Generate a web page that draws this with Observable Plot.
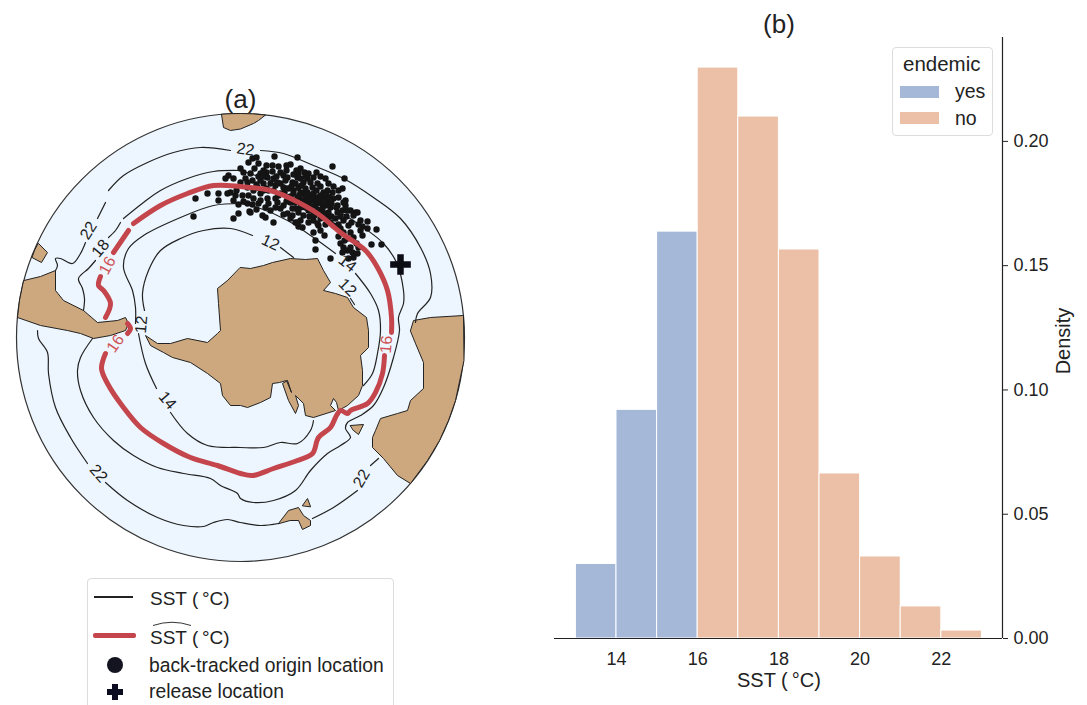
<!DOCTYPE html>
<html><head><meta charset="utf-8">
<script src="https://cdn.jsdelivr.net/npm/d3@7"></script>
<script src="https://cdn.jsdelivr.net/npm/@observablehq/plot@0.6"></script>
<style>
html,body{margin:0;padding:0;background:#fff;overflow:hidden}
#page{position:relative;width:1087px;height:705px;font-family:"Liberation Sans",Arial,sans-serif;color:#222;overflow:hidden}
#page>div.p{position:absolute;top:0}
.box{position:absolute;border:1px solid #dcdcdc;border-radius:4px;background:#fff;box-sizing:border-box}
.t{position:absolute;white-space:nowrap;line-height:1;transform:translateY(-50%)}
.g{position:absolute}
</style></head><body><div id="page">
<div class="p" id="mapP" style="left:0"></div>
<div class="p" id="histP" style="left:540px"></div>
</div>
<script>
// ---------- panel (b) values
const binStart=[13,14,15,16,17,18,19,20,21,22];
const density=[0.030,0.092,0.1637,0.2297,0.21,0.1565,0.0664,0.033,0.0129,0.0032];
const endemic=["yes","yes","yes","no","no","no","no","no","no","no"];
const xTicks=[14,16,18,20,22];
const yTicks=[0,0.05,0.10,0.15,0.20];

// ---------- panel (a) values, digitised map coordinates
const landTop=[[221,114],[223,127],[230,130],[240,128.5],[253,123],[258,120],[265,114.5],[252,113.3],[240,113],[230,113.2]];
const landIsle=[[38,243],[47,252],[41,262],[31.5,257],[34,250]];
const landSouthAm=[[23.4,280],[40,276],[55,270],[55,290],[63,300],[83,310],[97,322],[117,320],[125,317],[128,323],[125,330],[110,335],[93,338],[80,333],[67,330],[40,325],[17,317],[19,300]];
const landAntarctica=[[240,267],[250,268],[263,265],[272,262],[290,258],[305,259],[317,258],[323,270],[330,282],[323,290],[335,293],[347,297],[353,307],[366,317],[368,330],[368,347],[360,355],[362,370],[362,385],[358,395],[347,405],[338,410],[336,402],[333,398],[330,405],[335,410],[313,417],[305,415],[303,403],[295,395],[298,405],[295,413],[288,400],[282,383],[287,380],[291,392],[286,380],[279,382],[272,383],[270,397],[260,402],[247,407],[240,405],[230,405],[222,395],[220,383],[207,373],[190,362],[172,357],[163,352],[150,345],[145,335],[157,343],[170,343],[187,338],[207,342],[217,333],[220,330],[218,303],[217,288],[227,280]];
const landAustralia=[[410,330],[413,320],[430,317],[463,315],[463.5,360],[455,400],[448,420],[439,440],[427,460],[410,483],[397,475],[383,458],[372,447],[372,437],[375,430],[380,418],[397,413],[407,410],[410,400],[423,388],[423,362],[415,343]];
const landTas=[[350,425],[363,424],[358,434],[353,430]];
const landIslandA=[[278,523],[288,510],[298,507],[303,515],[310,520],[310,525],[302,529],[298,520],[290,520]];
const landIslandB=[[302,505],[307,498],[310,506]];
const lands=[landTop,landIsle,landSouthAm,landAntarctica,landAustralia,landTas,landIslandA,landIslandB];

const contours=[
 // 22
 [[260,150],[283,153],[313,165],[343,178],[373,197],[400,218],[420,247],[430,273],[430,297],[417,313],[415,322]],
 [[230,150],[200,147],[173,152],[147,162],[123,175],[108,190]],
 [[105,202],[97,218]],
 [[85,242],[80,253],[72,263],[60,258],[55,258],[57,265],[55,270]],
 [[37,330],[38,338],[47,352],[48,373],[55,407],[70,437],[87,463]],
 [[105,482],[127,500],[157,517],[183,525],[203,526],[213,522],[227,519],[240,522],[260,525],[278,523]],
 [[312,518],[333,507],[357,490]],
 [[370,465],[378,458]],
 // 18
 [[240,170],[213,171],[187,178],[160,190],[143,202],[123,218]],
 [[120,222],[115,230],[108,237]],
 [[95,260],[88,268],[78,278],[82,288],[84,298],[83,310]],
 [[240,170],[270,180],[310,195],[340,212],[363,227],[383,243],[396,262],[403,290],[403,303],[398,317],[399,330],[393,357],[383,387],[373,405],[360,415],[347,422],[345,428],[350,437],[340,445],[327,453],[310,470],[295,490],[273,500],[253,502],[240,498],[237,493],[220,485],[210,478],[183,473],[157,467],[133,455],[113,440],[93,417],[80,390],[77,370],[80,357],[92,338]],
 // 14
 [[240,203],[260,208],[287,220],[313,237],[335,253]],
 [[240,203],[213,205],[180,217],[143,235],[128,248],[123,267],[132,290],[135,307],[135,323]],
 [[138,333],[145,363],[156,388]],
 [[170,412],[187,433],[207,445],[240,447],[263,447],[280,442],[297,443],[310,430],[313,420]],
 [[355,273],[370,293],[378,310],[380,330],[377,353],[372,373],[363,385]],
 // 12
 [[252,235],[230,228],[203,230],[180,238],[160,250],[148,270],[142,293],[144,310]],
 [[280,247],[293,257]],
 [[350,298],[354,304]]
];
const redContour=[
 [[133,223],[160,205],[187,193],[213,185],[240,186],[270,190],[290,198],[317,213],[340,232],[365,250],[377,267],[387,290],[391,317],[391,332]],
 [[384,355],[382,373],[375,392],[367,403],[350,410],[347,413],[340,410],[336,415],[330,427],[318,437],[312,453],[297,460],[273,468],[252,475],[240,473],[217,465],[190,457],[163,443],[140,427],[123,407],[107,383],[101,368],[105,353]],
 [[127,333],[130,328],[127,323]],
 [[105,317],[110,303],[103,290],[98,285],[100,276]],
 [[113,252],[128,230]]
];
const contourLabels=[
 {x:245,y:149,text:"22",rotate:8,fill:"#222"},
 {x:88,y:230,text:"22",rotate:-58,fill:"#222"},
 {x:100,y:248,text:"18",rotate:-50,fill:"#222"},
 {x:107,y:265,text:"16",rotate:-62,fill:"#cf5257"},
 {x:141,y:324,text:"12",rotate:-85,fill:"#222"},
 {x:115,y:343,text:"16",rotate:-55,fill:"#cf5257"},
 {x:167,y:400,text:"14",rotate:50,fill:"#222"},
 {x:98,y:473,text:"22",rotate:48,fill:"#222"},
 {x:361,y:478,text:"22",rotate:-60,fill:"#222"},
 {x:386,y:344,text:"16",rotate:-85,fill:"#cf5257"},
 {x:270,y:242,text:"12",rotate:25,fill:"#222"},
 {x:347,y:263,text:"14",rotate:38,fill:"#222"},
 {x:347,y:287,text:"12",rotate:45,fill:"#222"}
];
const originsOuter=[[195,198],[193,216],[207,193],[218,193],[218,200],[233,218],[238,213],[249,211],[262,215],[265,217],[273,222],[295,222],[298,226],[315,249],[330,258],[315,240],[324,235],[313,232],[318,225],[274,156],[297,157],[332,166],[344,178],[342,188],[345,200],[345,205],[376,229],[381,244],[371,244],[367,221],[360,220],[355,212],[228,175],[225,178],[233,178]];
const originsUpper=[[248,162],[252,158],[256,157],[240,168],[243,172],[266,165],[263,170],[278,166],[280,172],[283,175],[290,164],[300,168],[298,173],[297,177],[308,173],[313,177],[320,176],[328,183],[327,190],[323,192],[260,173],[267,177],[273,178],[270,183],[263,183],[260,180],[250,173],[252,180],[240,182]];
const originsDense=[[280,183],[283,187],[288,188],[293,190],[287,177],[292,182],[295,183],[303,182],[307,178],[312,187],[317,183],[298,187],[305,188],[300,192],[303,193],[307,192],[310,195],[313,193],[317,197],[320,195],[323,198],[327,200],[305,197],[312,200],[318,202],[325,205],[330,207],[322,208],[333,198],[343,202],[337,205],[347,210],[297,197],[293,193],[302,200],[308,203],[315,205],[299,195],[309,199],[314,198],[321,203],[328,204],[304,201]];
const originsLower=[[230,192],[227,193],[235,195],[233,200],[242,195],[248,195],[253,198],[260,193],[247,203],[250,212],[258,203],[267,198],[265,207],[270,210],[277,202],[278,195],[283,205],[287,213],[295,208],[303,215],[297,222],[302,227],[313,220],[317,223],[320,230],[327,217],[335,218],[343,220],[353,215],[357,212],[348,225],[343,232],[353,237],[362,235],[367,228],[360,230],[343,247],[347,250],[357,253],[353,257],[340,243],[350,247],[273,190],[268,190],[263,190],[253,190],[257,187],[247,187],[280,193],[287,197],[290,202],[295,202],[300,207],[308,210],[313,212],[320,213],[328,212],[337,212],[280,208],[292,215]];
const originsFill=[[254,168],[258,176],[272,171],[286,170],[293,174],[304,172],[316,172],[276,176],[245,178],[256,184],[247,182],[266,188],[275,185],[285,180],[300,178],[310,182],[320,186],[326,195],[332,192],[338,197],[290,196],[284,192],[275,198],[268,203],[260,200],[252,204],[243,201],[236,190],[238,204],[256,209],[275,207],[286,201],[292,208],[298,212],[305,207],[311,206],[317,209],[324,213],[331,216],[340,216],[346,216],[351,222],[358,224],[338,224],[330,222],[325,224],[309,216],[300,220],[290,218],[283,214],[347,238],[356,243],[350,232],[338,236],[362,226],[342,210],[336,207],[331,203],[305,176],[296,170],[286,165],[272,165],[258,163],[350,210],[325,178],[333,186],[338,190],[266,172],[277,182],[264,176],[291,186],[316,190],[321,200],[329,197],[301,185],[315,201],[340,228],[333,225],[344,240],[352,252],[348,258],[342,252],[358,247],[314,215],[308,222],[320,218]];
const origins=[...originsOuter,...originsUpper,...originsDense,...originsLower,...originsFill];
const release=[[400,264]];

const rows=segs=>segs.flatMap((p,i)=>p.map(([x,y])=>({x,y,z:i})));

// ---------- panel (a)
const mapFont="Liberation Sans";
const map=Plot.plot({
 width:480,height:705,marginLeft:16,marginRight:16,marginTop:113,marginBottom:144,
 style:{fontFamily:mapFont,background:"transparent"},
 x:{axis:null,domain:[16,464]},
 y:{axis:null,domain:[113,561],reverse:false,range:[113,561]},
 marks:[
  Plot.dot([[240,337]],{x:d=>d[0],y:d=>d[1],r:224,fill:"#edf6fe",stroke:"#333",strokeWidth:1.2}),
  Plot.line(rows(lands),{x:"x",y:"y",z:"z",fill:"#cda77d",stroke:"#222",strokeWidth:1,curve:"linear-closed"}),
  Plot.line(rows(contours),{x:"x",y:"y",z:"z",stroke:"#222",strokeWidth:1.2,curve:"catmull-rom"}),
  Plot.dot(origins,{x:d=>d[0],y:d=>d[1],r:3.2,fill:"#141414"}),
  Plot.line(rows(redContour),{x:"x",y:"y",z:"z",stroke:"#c4464c",strokeWidth:5,curve:"catmull-rom",strokeLinejoin:"round"}),
  Plot.dot(release,{x:d=>d[0],y:d=>d[1],symbol:"plus",r:6.7,stroke:"#0c0c14",strokeWidth:6.5}),
  Plot.text(contourLabels,{x:"x",y:"y",text:"text",rotate:"rotate",fill:"fill",fontSize:16}),
  Plot.text(["(a)"],{x:[240],y:[99],text:d=>d,fontSize:26,fill:"#222"})
 ]
});
document.getElementById("mapP").append(map);

// ---------- panel (b)
const bars=binStart.map((s,i)=>({x1:s,x2:s+1,y:density[i],c:endemic[i]}));
const hist=Plot.plot({
 width:547,height:705,marginLeft:14,marginRight:85,marginTop:37,marginBottom:67,
 style:{fontFamily:mapFont,background:"transparent"},
 x:{domain:[12.473,23.507]},
 y:{domain:[0,0.2418]},
 color:{domain:["yes","no"],range:["#a5b8d8","#ebc0a6"]},
 marks:[
  Plot.rectY(bars,{x1:"x1",x2:"x2",y:"y",fill:"c",stroke:"#fff",strokeWidth:1}),
  Plot.ruleY([0],{stroke:"#222",strokeWidth:1.2}),
  Plot.ruleX([23.507],{stroke:"#222",strokeWidth:1.2}),
  Plot.axisX({ticks:xTicks,tickSize:0,tickPadding:14,fontSize:18,label:null,fill:"#222"}),
  Plot.axisY({anchor:"right",ticks:yTicks,tickSize:5,tickPadding:6,tickFormat:".2f",fontSize:18,label:null,fill:"#222",stroke:"#222"}),
  Plot.text(["SST (\u2009°C)"],{x:[18],frameAnchor:"bottom",lineAnchor:"middle",dy:42,fontSize:20,fill:"#222"}),
  Plot.text(["Density"],{frameAnchor:"right",textAnchor:"middle",dx:61,dy:3,rotate:-90,fontSize:20,fill:"#222"}),
  Plot.text(["(b)"],{x:[18],frameAnchor:"top",lineAnchor:"middle",dy:-13,fontSize:26,fill:"#222"})
 ]
});
document.getElementById("histP").append(hist);

// ---------- HTML legends
const page=document.getElementById("page");
function el(cls,css,txt){const e=document.createElement("div");e.className=cls;e.style.cssText=css;if(txt)e.textContent=txt;page.append(e);return e;}
// histogram legend
el("box","left:892px;top:47px;width:101px;height:89px");
el("t","left:903px;top:64px;font-size:20.5px","endemic");
el("g","left:900px;top:86px;width:39px;height:12px;background:#a5b8d8");
el("g","left:900px;top:112px;width:39px;height:12px;background:#ebc0a6");
el("t","left:955px;top:92px;font-size:19.5px","yes");
el("t","left:955px;top:119px;font-size:19.5px","no");
// map legend
el("box","left:87px;top:578px;width:307px;height:140px");
el("g","left:94px;top:596px;width:39px;height:2px;background:#222");
el("t","left:150px;top:598px;font-size:19px","SST (\u2009°C)");
el("g","left:93px;top:633px;width:43px;height:5px;background:#c4464c;border-radius:2px");
el("t","left:150px;top:637px;font-size:19px","SST (\u2009°C)");
const hat=el("g","left:152px;top:620px;width:42px;height:7px");
hat.innerHTML='<svg width="42" height="7" style="display:block"><path d="M1 5.5 Q20 -1 39 5.5" fill="none" stroke="#333" stroke-width="1"/></svg>';
el("g","left:107px;top:657px;width:16px;height:16px;border-radius:50%;background:#141420");
el("t","left:149px;top:666px;font-size:19.3px","back-tracked origin location");
el("g","left:107px;top:689px;width:16px;height:6px;background:#0c0c20");
el("g","left:112px;top:684px;width:6px;height:16px;background:#0c0c20");
el("t","left:149px;top:692px;font-size:19.3px","release location");
</script></body></html>
